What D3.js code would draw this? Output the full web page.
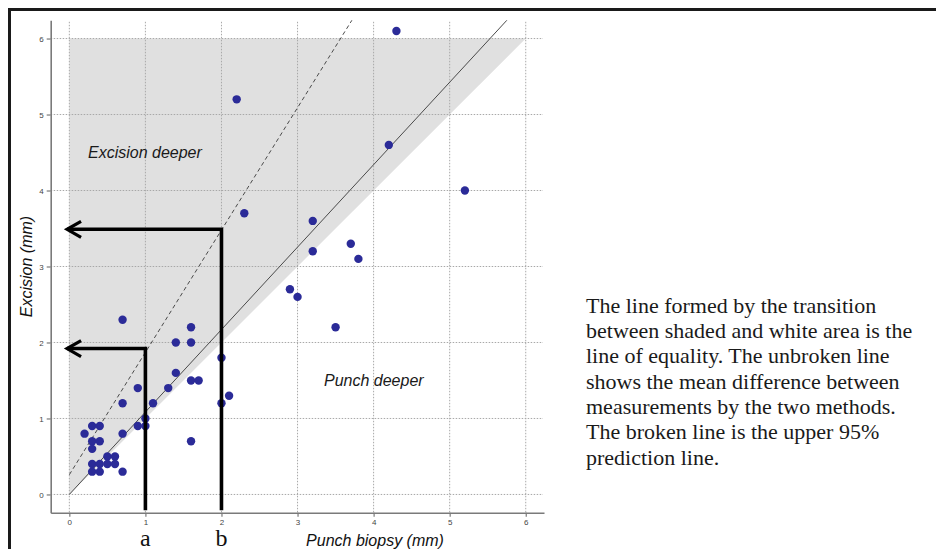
<!DOCTYPE html>
<html>
<head>
<meta charset="utf-8">
<script src="https://cdn.jsdelivr.net/npm/d3@7"></script>
<style>
  html, body { margin: 0; padding: 0; background: #fff; }
  svg { display: block; }
</style>
</head>
<body>
<svg id="chart" width="936" height="549"></svg>
<script>
// ---- data ----
const xTicks = [0, 1, 2, 3, 4, 5, 6];
const yTicks = [0, 1, 2, 3, 4, 5, 6];
const punch = [4.3, 2.2, 4.2, 5.2, 2.3, 3.2, 3.7, 3.2, 3.8, 2.9, 3.0, 3.5,
  0.7, 1.6, 1.4, 1.6, 2.0, 1.4, 1.6, 1.7, 0.9, 1.3, 2.1, 0.7, 1.1, 2.0,
  1.0, 0.9, 1.0, 0.3, 0.4, 0.2, 0.7, 1.6, 0.3, 0.4, 0.3, 0.5, 0.6,
  0.3, 0.4, 0.5, 0.6, 0.3, 0.4, 0.7];
const excision = [6.1, 5.2, 4.6, 4.0, 3.7, 3.6, 3.3, 3.2, 3.1, 2.7, 2.6, 2.2,
  2.3, 2.2, 2.0, 2.0, 1.8, 1.6, 1.5, 1.5, 1.4, 1.4, 1.3, 1.2, 1.2, 1.2,
  1.0, 0.9, 0.9, 0.9, 0.9, 0.8, 0.8, 0.7, 0.7, 0.7, 0.6, 0.5, 0.5,
  0.4, 0.4, 0.4, 0.4, 0.3, 0.3, 0.3];
// fitted lines: [intercept, slope]
const meanLine = [0, 1.085];
const upperLine = [0.26, 1.61];
// equality region (shaded "excision deeper")
const shadeX = [0, 0, 6];
const shadeY = [0, 6, 6];
// annotation arrows a / b
const arrowLabels = ["a", "b"];
const arrowX = [1, 2];
const arrowY = [1.92, 3.49];
const captionLines = [
  "The line formed by the transition",
  "between shaded and white area is the",
  "line of equality. The unbroken line",
  "shows the mean difference between",
  "measurements by the two methods.",
  "The broken line is the upper 95%",
  "prediction line."
];

// ---- drawing ----
const svg = d3.select("#chart");
const xDom = [-0.245, 6.24], yDom = [-0.24, 6.24];
const x = d3.scaleLinear().domain(xDom).range([50.7, 544]);
const y = d3.scaleLinear().domain(yDom).range([512.7, 20.3]);

// frame
svg.append("rect").attr("x", 9.5).attr("y", 9.5).attr("width", 940).attr("height", 560)
  .attr("fill", "none").attr("stroke", "#1a1a1a").attr("stroke-width", 3);

// shaded triangle
svg.append("path")
  .attr("d", d3.line().x(d => x(d[0])).y(d => y(d[1]))(shadeX.map((v, i) => [v, shadeY[i]])) + "Z")
  .attr("fill", "#e0e0e0");

// grid
const grid = svg.append("g").attr("stroke", "#a8a8a8").attr("stroke-width", 1)
  .attr("stroke-dasharray", "1.5,1.5");
grid.selectAll(".vg").data(xTicks).join("line")
  .attr("x1", d => x(d)).attr("x2", d => x(d))
  .attr("y1", y(yDom[1]) + 1.5).attr("y2", y(yDom[0]));
grid.selectAll(".hg").data(yTicks).join("line")
  .attr("y1", d => y(d)).attr("y2", d => y(d))
  .attr("x1", x(xDom[0])).attr("x2", x(xDom[1]) - 1);

// fitted lines, clipped to plot top
function lineSeg(p) {
  const x0 = 0, x1 = Math.min(xDom[1], (yDom[1] - p[0]) / p[1]);
  return [[x0, p[0] + p[1] * x0], [x1, p[0] + p[1] * x1]];
}
const lg = d3.line().x(d => x(d[0])).y(d => y(d[1]));
svg.append("path").attr("d", lg(lineSeg(meanLine)))
  .attr("stroke", "#4a4a4a").attr("stroke-width", 1).attr("fill", "none");
svg.append("path").attr("d", lg(lineSeg(upperLine)))
  .attr("stroke", "#4a4a4a").attr("stroke-width", 1).attr("fill", "none")
  .attr("stroke-dasharray", "4,3");

// points
svg.append("g").selectAll("circle").data(punch.map((v, i) => [v, excision[i]])).join("circle")
  .attr("cx", d => x(d[0])).attr("cy", d => y(d[1])).attr("r", 4.2)
  .attr("fill", "#2b2b98");

// axes
const axFont = "Liberation Sans, Arial, sans-serif";
const xAxis = svg.append("g").attr("transform", `translate(0,${y(yDom[0])})`)
  .call(d3.axisBottom(x).tickValues(xTicks).tickSizeInner(4).tickSizeOuter(0).tickPadding(3).tickFormat(d3.format("d")));
const yAxis = svg.append("g").attr("transform", `translate(${x(xDom[0])},0)`)
  .call(d3.axisLeft(y).tickValues(yTicks).tickSizeInner(4).tickSizeOuter(0).tickPadding(3).tickFormat(d3.format("d")));
[xAxis, yAxis].forEach(a => {
  a.select(".domain").attr("stroke", "#7a7a7a").attr("stroke-width", 1.6);
  a.selectAll(".tick line").attr("stroke", "#7a7a7a").attr("stroke-width", 1.2);
  a.selectAll(".tick text").attr("fill", "#444").attr("font-size", 8).attr("font-family", axFont);
});

// arrows
const ag = svg.append("g").attr("stroke", "#000").attr("stroke-width", 3.6).attr("fill", "none");
const tipX = -0.03;
arrowX.forEach((ax, i) => {
  const px = x(ax), py = y(arrowY[i]), bottom = y(yDom[0]) - 2.5, tx = x(tipX);
  ag.append("path").attr("d", `M${px},${bottom}V${py}H${tx}`).attr("stroke-linejoin", "miter");
  ag.append("path").attr("d", `M${tx + 14},${py - 8}L${tx},${py}L${tx + 14},${py + 8}`)
    .attr("stroke-width", 3.2);
  svg.append("text").attr("x", px).attr("y", 546).attr("text-anchor", "middle")
    .attr("font-family", "Liberation Serif, Times New Roman, serif").attr("font-size", 24)
    .attr("fill", "#111").text(arrowLabels[i]);
});

// axis titles
svg.append("text").attr("x", 375).attr("y", 546).attr("text-anchor", "middle")
  .attr("font-family", axFont).attr("font-style", "italic").attr("font-size", 16)
  .attr("fill", "#111").text("Punch biopsy (mm)");
svg.append("text").attr("transform", `translate(32,${y(3)}) rotate(-90)`).attr("text-anchor", "middle")
  .attr("font-family", axFont).attr("font-style", "italic").attr("font-size", 16)
  .attr("fill", "#111").text("Excision (mm)");

// region labels
svg.append("text").attr("x", 88).attr("y", 157.5)
  .attr("font-family", axFont).attr("font-style", "italic").attr("font-size", 16)
  .attr("fill", "#1a1a1a").text("Excision deeper");
svg.append("text").attr("x", 324).attr("y", 385.5)
  .attr("font-family", axFont).attr("font-style", "italic").attr("font-size", 16)
  .attr("fill", "#1a1a1a").text("Punch deeper");

// caption
svg.append("g").selectAll("text").data(captionLines).join("text")
  .attr("x", 586).attr("y", (d, i) => 312.7 + i * 25.3)
  .attr("font-family", "Liberation Serif, Times New Roman, serif").attr("font-size", 22)
  .attr("fill", "#1a1a1a").text(d => d);
</script>
</body>
</html>
